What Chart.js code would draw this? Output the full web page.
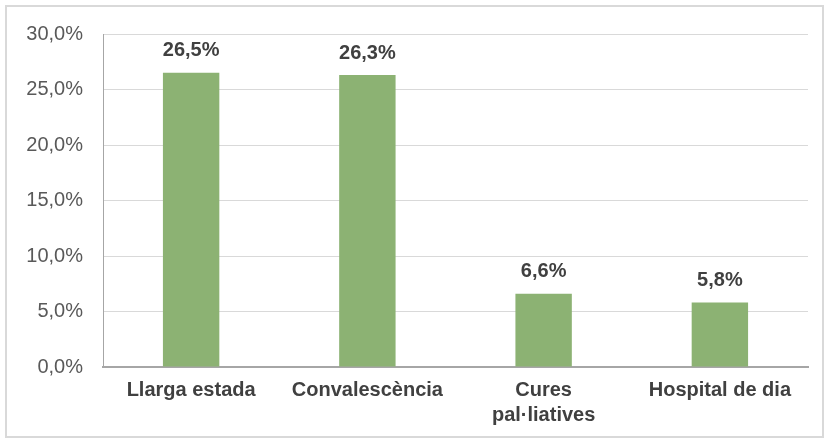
<!DOCTYPE html>
<html>
<head>
<meta charset="utf-8">
<script src="https://cdn.jsdelivr.net/npm/chart.js@4/dist/chart.umd.min.js"></script>
<style>
  html, body { margin: 0; padding: 0; background: #fff; }
  #wrap { position: absolute; left: 5px; top: 5px; width: 815px; height: 429px; border: 2px solid #d9d9d9; }
  canvas { position: absolute; left: 0; top: 0; }
</style>
</head>
<body>
<div id="wrap"></div>
<canvas id="chart" width="828" height="441"></canvas>
<script>
// Categories and values
const categories = ['Llarga estada', 'Convalescència', ['Cures', 'pal·liatives'], 'Hospital de dia'];
const values = [26.5, 26.3, 6.6, 5.8];
const yTicks = [0, 5, 10, 15, 20, 25, 30];

const fmt = v => v.toFixed(1).replace('.', ',') + '%';

// Draw the value above each bar
const barLabels = {
  id: 'barLabels',
  afterDatasetsDraw(chart) {
    const ctx = chart.ctx;
    const meta = chart.getDatasetMeta(0);
    ctx.save();
    ctx.font = 'bold 20px "Liberation Sans", Arial, sans-serif';
    ctx.fillStyle = '#404040';
    ctx.textAlign = 'center';
    ctx.textBaseline = 'bottom';
    meta.data.forEach((bar, i) => {
      ctx.fillText(fmt(values[i]), bar.x, bar.y - 12);
    });
    ctx.restore();
  }
};

new Chart(document.getElementById('chart'), {
  type: 'bar',
  data: {
    labels: categories,
    datasets: [
      {
        data: values,
        backgroundColor: '#8cb273',
        barPercentage: 0.32,
        categoryPercentage: 1,
      },
    ],
  },
  options: {
    responsive: false,
    animation: false,
    layout: { padding: { top: 34, right: 20, left: 0, bottom: 0 } },
    plugins: {
      legend: { display: false },
      tooltip: { enabled: false },
    },
    scales: {
      x: {
        grid: { display: false, drawTicks: false },
        border: { color: '#a6a6a6', width: 2 },
        ticks: {
          color: '#404040',
          padding: 11,
          font: { family: '"Liberation Sans", Arial, sans-serif', size: 20, weight: 'bold', lineHeight: 1.25 },
          maxRotation: 0,
          autoSkip: false,
        },
        afterFit(scale) { scale.height = 74; },
      },
      y: {
        min: 0,
        max: 30,
        afterBuildTicks(scale) { scale.ticks = yTicks.map(v => ({ value: v })); },
        grid: { color: '#d9d9d9', drawTicks: false },
        border: { color: '#a6a6a6', width: 1 },
        ticks: {
          color: '#595959',
          padding: 20,
          font: { family: '"Liberation Sans", Arial, sans-serif', size: 20 },
          callback: v => fmt(v),
        },
        afterFit(scale) { scale.width = 103; },
      },
    },
  },
  plugins: [barLabels],
});
</script>
</body>
</html>
